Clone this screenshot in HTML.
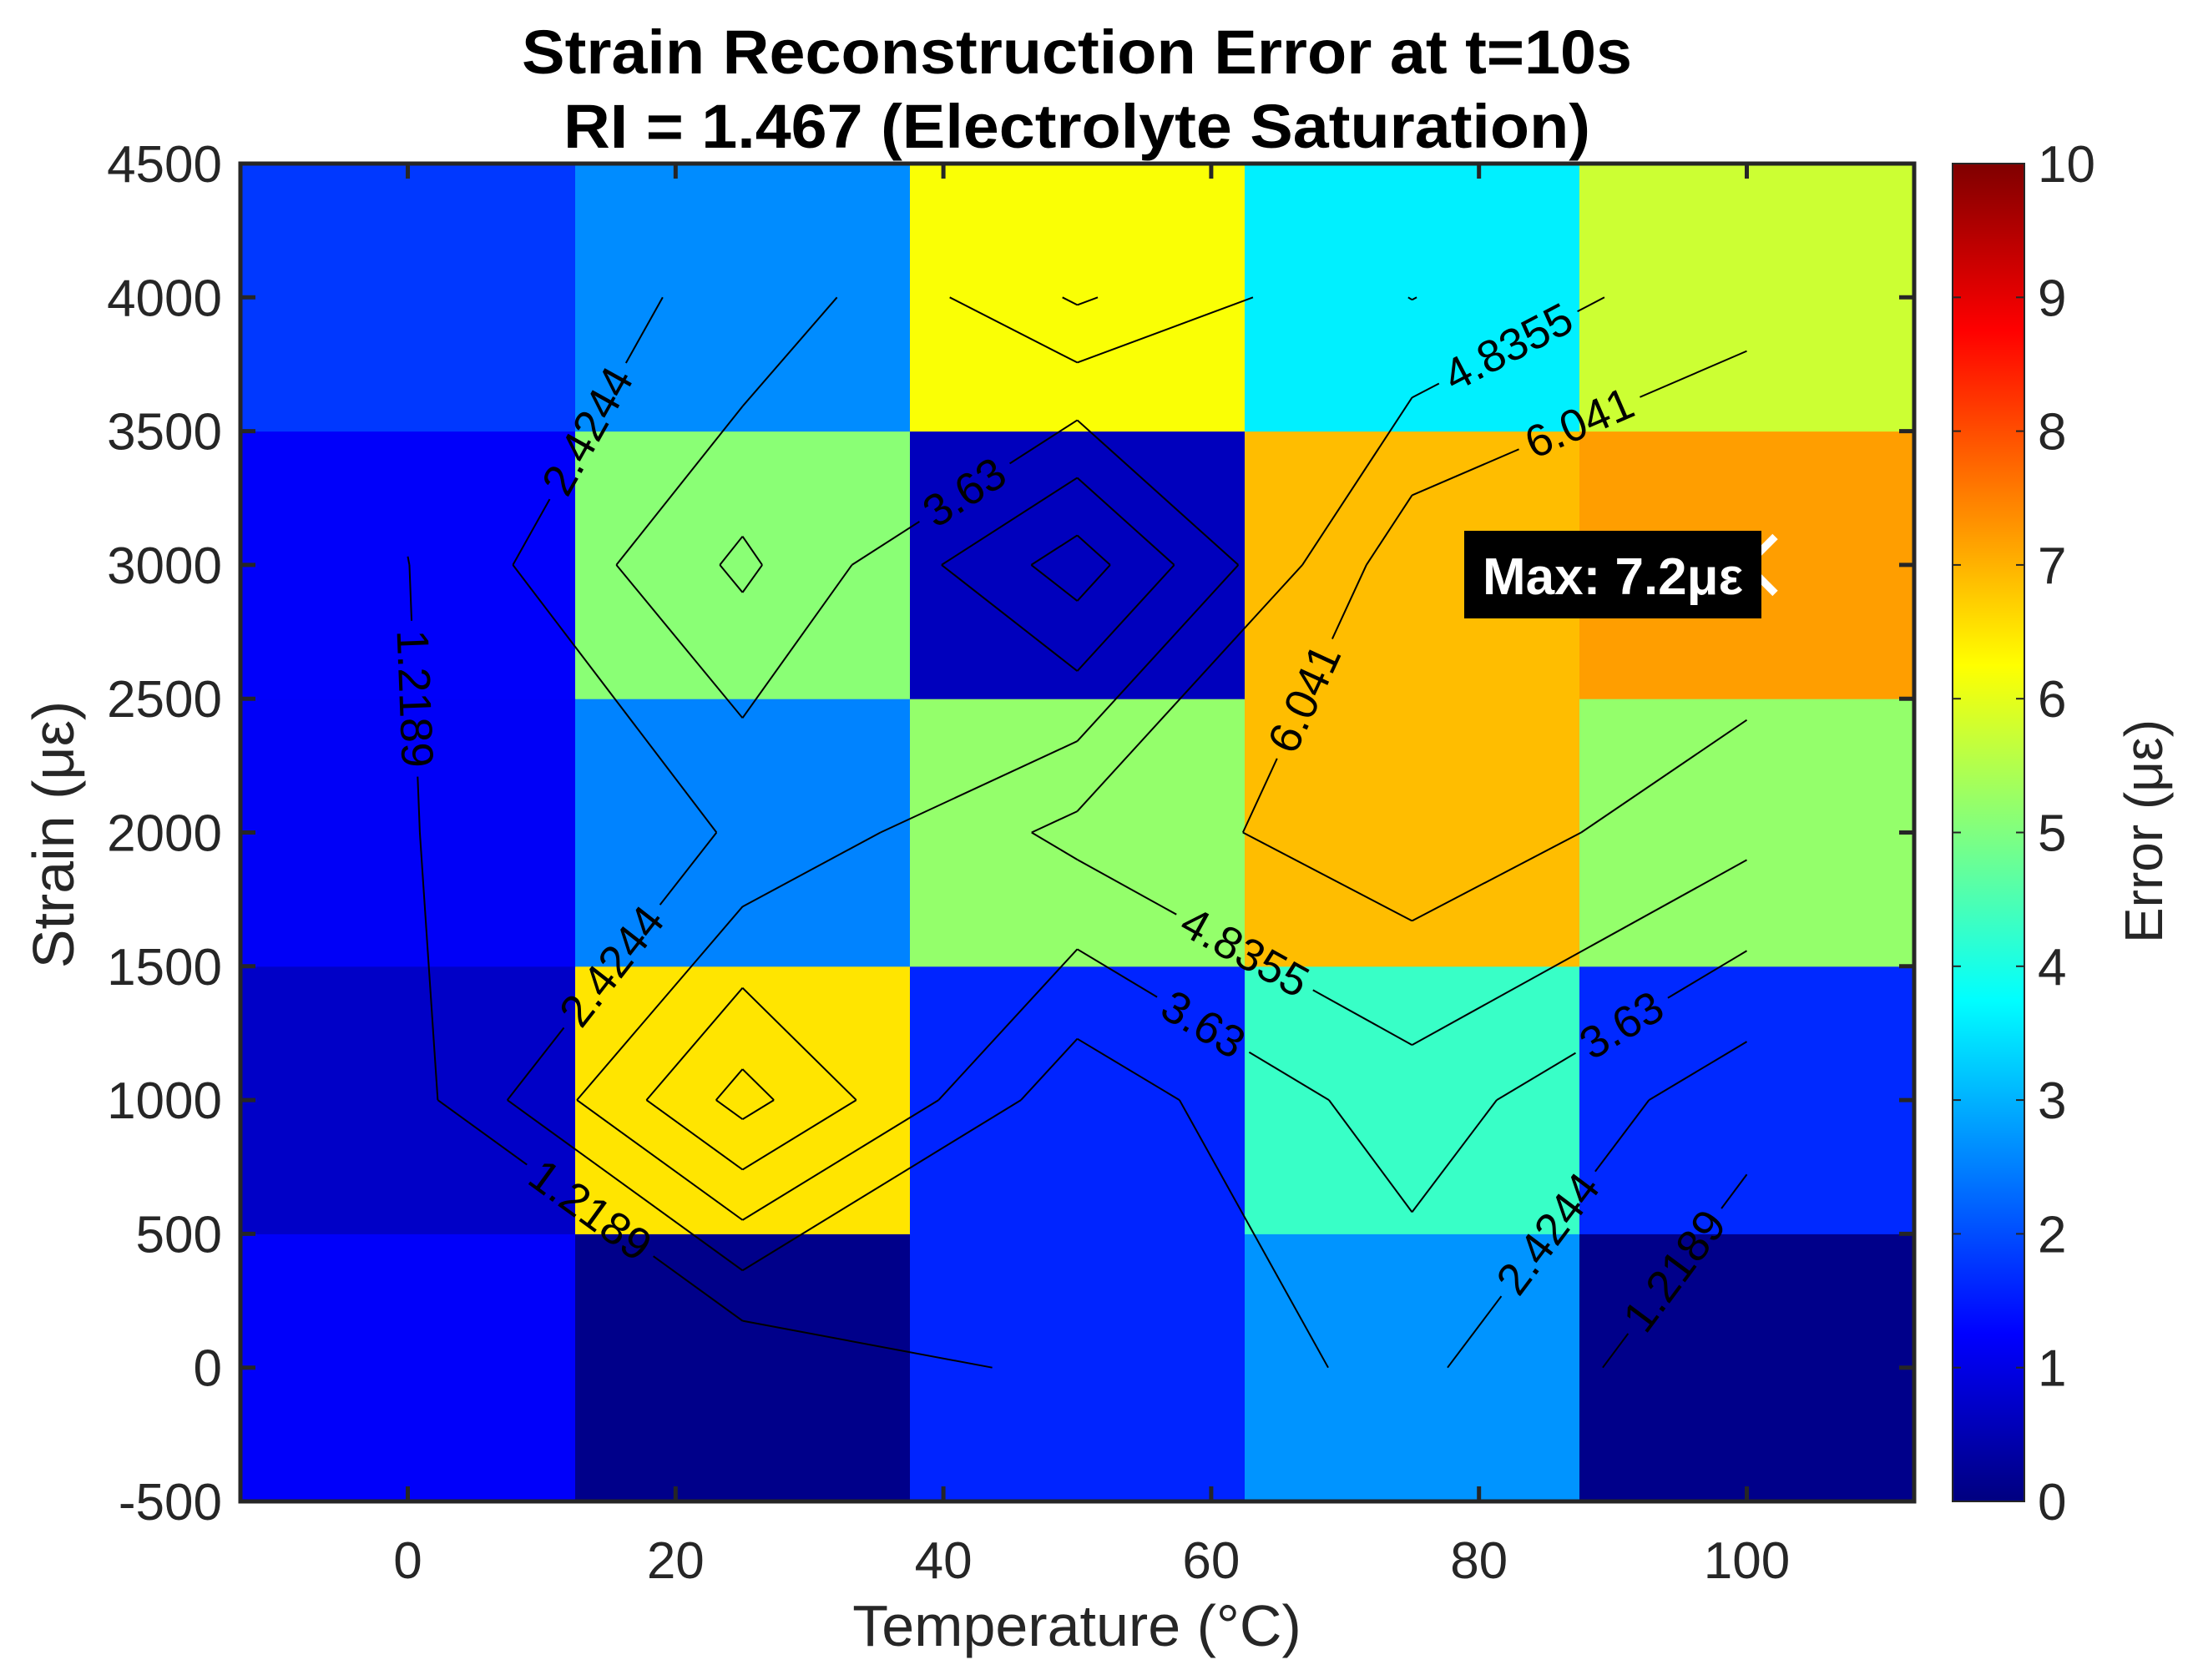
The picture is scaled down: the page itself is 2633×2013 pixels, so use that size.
<!DOCTYPE html>
<html><head><meta charset="utf-8"><style>
html,body{margin:0;padding:0;background:#fff;}
svg{display:block;font-family:"Liberation Sans",sans-serif;}
</style></head><body>
<svg id="chart" width="2633" height="2013" viewBox="0 0 2633 2013" xmlns="http://www.w3.org/2000/svg">
<rect width="2633" height="2013" fill="#fff"/>
<text x="1290" y="88" text-anchor="middle" font-size="74" font-weight="bold" fill="#000" textLength="1330" lengthAdjust="spacingAndGlyphs">Strain Reconstruction Error at t=10s</text>
<text x="1290" y="177" text-anchor="middle" font-size="74" font-weight="bold" fill="#000" textLength="1230" lengthAdjust="spacingAndGlyphs">RI = 1.467 (Electrolyte Saturation)</text>
<defs><mask id="lblmask" maskUnits="userSpaceOnUse" x="0" y="0" width="2633" height="2013"><rect width="2633" height="2013" fill="#fff"/><g id="maskholes"></g></mask></defs>
<g id="cells"></g>
<g id="contours" mask="url(#lblmask)"></g>
<g id="clabels"></g>
<g id="axes"></g>
<g id="cbar"></g>
<g id="annot"></g>
<text x="1290" y="1972" text-anchor="middle" font-size="70" fill="#262626">Temperature (°C)</text>
<text transform="translate(88,1000) rotate(-90)" text-anchor="middle" font-size="70" fill="#262626">Strain (με)</text>
<text transform="translate(2590,996) rotate(-90)" text-anchor="middle" font-size="64" fill="#262626">Error (με)</text>
</svg>
<script>
const temps = [0, 25, 50, 75, 100];
const strains = [0, 1000, 2000, 3000, 4000];
// errors[row][col], row = strain index, col = temperature index
const errors = [
  [1.2, 0.1, 1.6, 2.7, 0.1],
  [0.7, 6.5, 1.6, 4.3, 1.65],
  [1.17, 2.53, 5.2, 6.9, 5.2],
  [1.2, 5.1, 0.6, 6.9, 7.2],
  [1.8, 2.62, 6.2, 3.6, 5.75]
];
const levels = [1.2189, 2.4244, 3.63, 4.8355, 6.041];
const levelLabels = ["1.2189", "2.4244", "3.63", "4.8355", "6.041"];
const xTicks = [0, 20, 40, 60, 80, 100];
const yTicks = [-500, 0, 500, 1000, 1500, 2000, 2500, 3000, 3500, 4000, 4500];
const cTicks = [0, 1, 2, 3, 4, 5, 6, 7, 8, 9, 10];
const maxLabel = "Max: 7.2με";

const NS = "http://www.w3.org/2000/svg";
const PL = 288, PR = 2293, PT = 196, PB = 1799;
const xMin = -12.5, xMax = 112.5, yMin = -500, yMax = 4500;
const X = v => PL + (v - xMin) / (xMax - xMin) * (PR - PL);
const Y = v => PB - (v - yMin) / (yMax - yMin) * (PB - PT);
const CL = 2339, CR = 2425, cMin = 0, cMax = 10;
const C = v => PB - (v - cMin) / (cMax - cMin) * (PB - PT);

function jet(t) {
  t = Math.max(0, Math.min(1, t));
  const f = x => Math.max(0, Math.min(1, x));
  const r = f(1.5 - Math.abs(4 * t - 3));
  const g = f(1.5 - Math.abs(4 * t - 2));
  const b = f(1.5 - Math.abs(4 * t - 1));
  return `rgb(${Math.round(r*255)},${Math.round(g*255)},${Math.round(b*255)})`;
}
function mk(tag, attrs, parent) {
  const e = document.createElementNS(NS, tag);
  for (const k in attrs) e.setAttribute(k, attrs[k]);
  parent.appendChild(e);
  return e;
}

// cells
const cells = document.getElementById('cells');
const dx = 25, dy = 1000;
for (let r = 0; r < strains.length; r++) {
  for (let c = 0; c < temps.length; c++) {
    const x0 = X(temps[c] - dx/2), x1 = X(temps[c] + dx/2);
    const y0 = Y(strains[r] + dy/2), y1 = Y(strains[r] - dy/2);
    const el = mk('rect', {x: x0, y: y0, width: x1 - x0 + 0.5, height: y1 - y0 + 0.5, fill: jet(errors[r][c] / cMax)}, cells);
    
    
  }
}

// contours (marching squares)
const cont = document.getElementById('contours');
const labs = document.getElementById('clabels');
const holes = document.getElementById('maskholes');
const LFS = 54;
levels.forEach((lv, li) => {
  const segs = [];
  for (let r = 0; r < strains.length - 1; r++) {
    for (let c = 0; c < temps.length - 1; c++) {
      const p = [[c, r], [c+1, r], [c+1, r+1], [c, r+1]];
      const v = p.map(q => errors[q[1]][q[0]]);
      const pts = [];
      for (let e = 0; e < 4; e++) {
        const a = e, b = (e + 1) % 4;
        if ((v[a] < lv) !== (v[b] < lv)) {
          const t = (lv - v[a]) / (v[b] - v[a]);
          const tx = temps[p[a][0]] + t * (temps[p[b][0]] - temps[p[a][0]]);
          const ty = strains[p[a][1]] + t * (strains[p[b][1]] - strains[p[a][1]]);
          pts.push([X(tx), Y(ty)]);
        }
      }
      if (pts.length === 2) segs.push([pts[0], pts[1]]);
      else if (pts.length === 4) {
        const avg = (v[0]+v[1]+v[2]+v[3]) / 4;
        if ((avg < lv) === (v[0] < lv)) { segs.push([pts[0], pts[1]]); segs.push([pts[2], pts[3]]); }
        else { segs.push([pts[0], pts[3]]); segs.push([pts[1], pts[2]]); }
      }
    }
  }
  segs.forEach(s => {
    const l = mk('line', {x1: s[0][0], y1: s[0][1], x2: s[1][0], y2: s[1][1], stroke: '#000', 'stroke-width': 2}, cont);
    
    
  });
  const sorted = segs.map(s => ({s, len: Math.hypot(s[1][0]-s[0][0], s[1][1]-s[0][1])})).sort((a, b) => b.len - a.len);
  const placed = [];
  const tw = levelLabels[li].length * LFS * 0.54;
  for (const o of sorted) {
    if (placed.length >= 3 || o.len < tw + 40) break;
    const mx = (o.s[0][0] + o.s[1][0]) / 2, my = (o.s[0][1] + o.s[1][1]) / 2;
    if (placed.some(p => Math.hypot(p[0]-mx, p[1]-my) < 450)) continue;
    placed.push([mx, my]);
    let ang = Math.atan2(o.s[1][1]-o.s[0][1], o.s[1][0]-o.s[0][0]) * 180 / Math.PI;
    if (ang > 90) ang -= 180; if (ang < -90) ang += 180;
    mk('rect', {x: -tw/2 - 6, y: -LFS*0.45, width: tw + 12, height: LFS*0.9, fill: '#000', transform: `translate(${mx},${my}) rotate(${ang})`}, holes);
    const t = mk('text', {transform: `translate(${mx},${my}) rotate(${ang})`, 'text-anchor': 'middle', 'dominant-baseline': 'central', 'font-size': LFS, fill: '#000'}, labs);
    t.textContent = levelLabels[li];
    
    
  }
});

// axes
const ax = document.getElementById('axes');
xTicks.forEach(v => {
  const x = X(v);
  mk('line', {x1: x, y1: PB, x2: x, y2: PB - 18, stroke: '#262626', 'stroke-width': 5}, ax);
  mk('line', {x1: x, y1: PT, x2: x, y2: PT + 18, stroke: '#262626', 'stroke-width': 5}, ax);
  const t = mk('text', {x: x, y: PB + 92, 'text-anchor': 'middle', 'font-size': 62, fill: '#262626'}, ax);
  t.textContent = v;
  
  
});
yTicks.forEach(v => {
  const y = Y(v);
  mk('line', {x1: PL, y1: y, x2: PL + 18, y2: y, stroke: '#262626', 'stroke-width': 5}, ax);
  mk('line', {x1: PR, y1: y, x2: PR - 18, y2: y, stroke: '#262626', 'stroke-width': 5}, ax);
  const t = mk('text', {x: PL - 22, y: y + 22, 'text-anchor': 'end', 'font-size': 62, fill: '#262626'}, ax);
  t.textContent = v;
  
  
});
const box = mk('rect', {x: PL, y: PT, width: PR - PL, height: PB - PT, fill: 'none', stroke: '#262626', 'stroke-width': 5}, ax);



// colorbar
const cb = document.getElementById('cbar');
const defs = mk('defs', {}, cb);
const grad = mk('linearGradient', {id: 'jetg', x1: 0, y1: 1, x2: 0, y2: 0}, defs);
for (let i = 0; i <= 64; i++) mk('stop', {offset: i / 64, 'stop-color': jet(i / 64)}, grad);
const cr = mk('rect', {x: CL, y: PT, width: CR - CL, height: PB - PT, fill: 'url(#jetg)', stroke: '#262626', 'stroke-width': 2}, cb);


cTicks.forEach(v => {
  const y = C(v);
  mk('line', {x1: CR, y1: y, x2: CR - 10, y2: y, stroke: '#262626', 'stroke-width': 2}, cb);
  mk('line', {x1: CL, y1: y, x2: CL + 10, y2: y, stroke: '#262626', 'stroke-width': 2}, cb);
  const t = mk('text', {x: CR + 16, y: y + 22, 'font-size': 62, fill: '#262626'}, cb);
  t.textContent = v;
  
  
});

// max annotation
const an = document.getElementById('annot');
const mx = X(100), my = Y(3000);
mk('path', {d: `M${mx-34},${my-34}L${mx+34},${my+34}M${mx-34},${my+34}L${mx+34},${my-34}`, stroke: '#fff', 'stroke-width': 9}, an);
const br = mk('rect', {x: 1754, y: 636, width: 356, height: 105, fill: '#000'}, an);


const mt = mk('text', {x: 1932, y: 712, 'text-anchor': 'middle', 'font-size': 62, 'font-weight': 'bold', fill: '#fff'}, an);
mt.textContent = maxLabel;


</script>
</body></html>
